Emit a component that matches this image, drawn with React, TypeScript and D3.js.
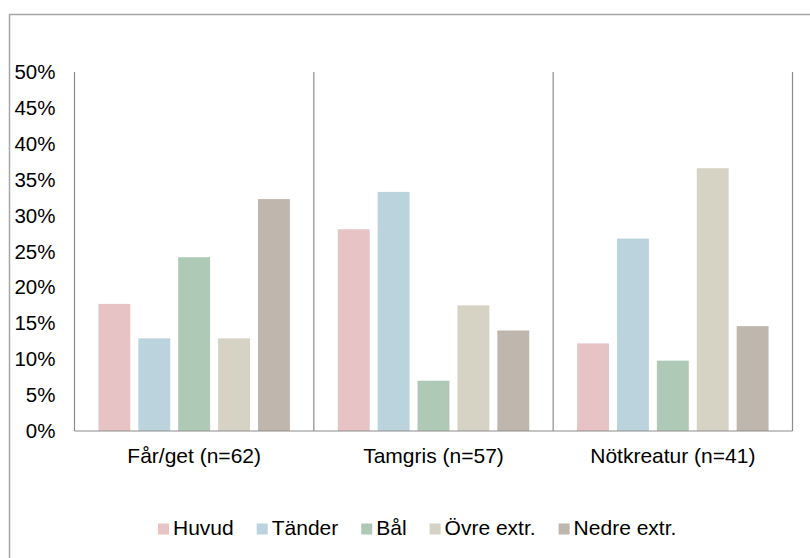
import React from "react";
import * as d3 from "d3";

const categories = ["Får/get (n=62)", "Tamgris (n=57)", "Nötkreatur (n=41)"];
const seriesNames = ["Huvud", "Tänder", "Bål", "Övre extr.", "Nedre extr."];
const huvud = [17.7, 28.1, 12.2];
const tander = [12.9, 33.3, 26.8];
const bal = [24.2, 7.0, 9.8];
const ovre = [12.9, 17.5, 36.6];
const nedre = [32.3, 14.0, 14.6];
const seriesValues = [huvud, tander, bal, ovre, nedre];
const seriesColors = ["#E7C3C6", "#BAD3DC", "#AECAB7", "#D6D3C4", "#BFB6AD"];
const yTicks = [0, 5, 10, 15, 20, 25, 30, 35, 40, 45, 50];

const W = 810;
const H = 558;
const FONT = "'Liberation Sans', Arial, sans-serif";

function measure(text: string): number {
  if (typeof document === "undefined") return text.length * 10.5;
  const c = document.createElement("canvas");
  const ctx = c.getContext("2d");
  if (!ctx) return text.length * 10.5;
  ctx.font = "21px 'Liberation Sans', Arial, sans-serif";
  return ctx.measureText(text).width;
}

export default function App() {
  const left = 74.5;
  const right = 792.5;
  const top = 72;
  const bottom = 431;

  const x0 = d3.scaleBand<string>().domain(categories).range([left, right]).padding(0);
  const x1 = d3
    .scaleBand<string>()
    .domain(seriesNames)
    .range([0, x0.bandwidth()])
    .paddingInner(0.2)
    .paddingOuter(0.6);
  const y = d3.scaleLinear().domain([0, 50]).range([bottom, top]);

  const legendStart = 158;
  let cx = legendStart;
  const legendItems = seriesNames.map((name, i) => {
    const w = measure(name);
    const item = { name, color: seriesColors[i], x: cx, w };
    cx += 11 + 4 + w + 23;
    return item;
  });

  return (
    <svg width={W} height={H} style={{ position: "absolute", left: 0, top: 0, background: "#fff" }}>
      <rect x={9.5} y={14.5} width={W + 10} height={H + 10} fill="#fff" stroke="#a6a6a6" strokeWidth={1.5} />

      {yTicks.map((t) => (
        <text
          key={t}
          x={55.5}
          y={y(t) + 7}
          textAnchor="end"
          fontFamily={FONT}
          fontSize={20.5}
          fill="#000"
        >
          {t}%
        </text>
      ))}

      {categories.map((cat, ci) => (
        <g key={cat} transform={`translate(${x0(cat)},0)`}>
          {seriesNames.map((s, si) => {
            const v = seriesValues[si][ci];
            return (
              <rect
                key={s}
                x={x1(s)}
                y={y(v)}
                width={x1.bandwidth()}
                height={y(0) - y(v)}
                fill={seriesColors[si]}
              />
            );
          })}
        </g>
      ))}

      <line x1={left} x2={left} y1={top} y2={bottom} stroke="#8c8c8c" strokeWidth={1.2} />
      <line x1={left} x2={right} y1={bottom} y2={bottom} stroke="#8c8c8c" strokeWidth={1.2} />
      {categories.map((cat) => (
        <line
          key={cat}
          x1={(x0(cat) as number) + x0.bandwidth()}
          x2={(x0(cat) as number) + x0.bandwidth()}
          y1={top}
          y2={bottom}
          stroke="#8c8c8c"
          strokeWidth={1.2}
        />
      ))}

      {categories.map((cat) => (
        <text
          key={cat}
          x={(x0(cat) as number) + x0.bandwidth() / 2}
          y={463}
          textAnchor="middle"
          fontFamily={FONT}
          fontSize={21}
          fill="#000"
        >
          {cat}
        </text>
      ))}

      {legendItems.map((it) => (
        <g key={it.name}>
          <rect x={it.x} y={523.5} width={11} height={11} fill={it.color} />
          <text x={it.x + 15} y={534.5} fontFamily={FONT} fontSize={21} fill="#000">
            {it.name}
          </text>
        </g>
      ))}
    </svg>
  );
}
